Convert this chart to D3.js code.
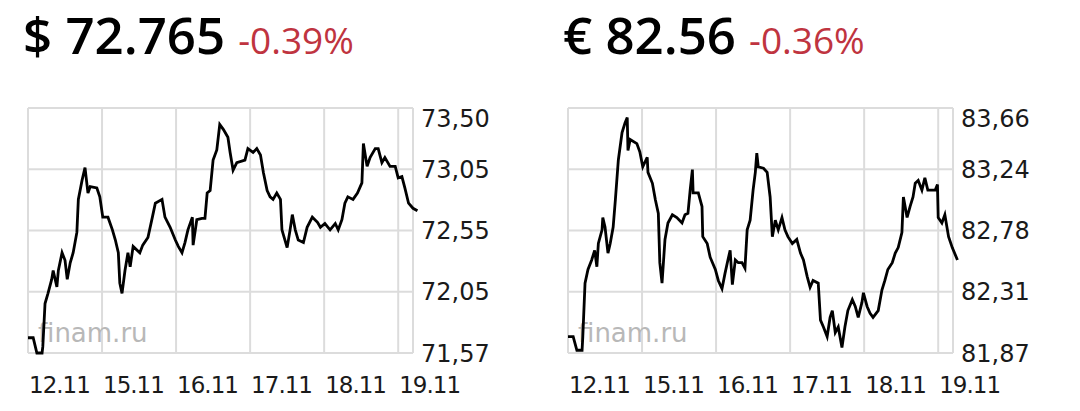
<!DOCTYPE html>
<html>
<head>
<meta charset="utf-8">
<script src="https://cdn.jsdelivr.net/npm/d3@7"></script>
<style>
  body { margin: 0; background: #fff; }
  svg { display: block; }
</style>
</head>
<body>
<script>
var width = 1080;
var height = 411;

// shared x axis: trading days, position in "day units"
var dayLabels = ["12.11", "15.11", "16.11", "17.11", "18.11", "19.11"];

// USD/RUB
var usdTicks = ["71,57", "72,05", "72,55", "73,05", "73,50"];
var usdDomain = [71.57, 73.50];
var usdT = [0.00, 0.07, 0.12, 0.19, 0.20, 0.23, 0.27, 0.32, 0.34, 0.39, 0.41, 0.46, 0.50, 0.53, 0.57, 0.61,
    0.66, 0.68, 0.73, 0.77, 0.81, 0.84, 0.93, 0.97, 1.01, 1.08, 1.14, 1.18, 1.22, 1.24, 1.27, 1.31,
    1.35, 1.38, 1.42, 1.51, 1.55, 1.62, 1.68, 1.72, 1.81, 1.85, 1.92, 1.99, 2.03, 2.08, 2.12, 2.16,
    2.22, 2.23, 2.28, 2.35, 2.39, 2.42, 2.46, 2.50, 2.55, 2.59, 2.64, 2.70, 2.73, 2.77, 2.82, 2.93,
    2.97, 3.04, 3.09, 3.14, 3.18, 3.23, 3.27, 3.31, 3.36, 3.41, 3.43, 3.50, 3.54, 3.57, 3.61, 3.65,
    3.72, 3.77, 3.84, 3.91, 3.95, 4.01, 4.08, 4.15, 4.19, 4.24, 4.28, 4.32, 4.39, 4.45, 4.51, 4.53,
    4.58, 4.62, 4.69, 4.73, 4.78, 4.82, 4.89, 4.96, 5.00, 5.05, 5.09, 5.14, 5.20, 5.26];
var usdV = [71.69, 71.69, 71.57, 71.57, 71.62, 71.96, 72.04, 72.15, 72.22, 72.09, 72.22, 72.36, 72.30, 72.15, 72.28, 72.36,
    72.52, 72.78, 72.93, 73.03, 72.83, 72.88, 72.87, 72.80, 72.64, 72.64, 72.54, 72.46, 72.36, 72.12, 72.04, 72.22,
    72.36, 72.25, 72.41, 72.36, 72.42, 72.48, 72.64, 72.75, 72.78, 72.64, 72.56, 72.46, 72.41, 72.36, 72.44, 72.54,
    72.64, 72.42, 72.62, 72.63, 72.63, 72.83, 72.85, 73.09, 73.17, 73.37, 73.33, 73.27, 73.15, 73.01, 73.07, 73.09,
    73.18, 73.15, 73.18, 73.13, 72.99, 72.85, 72.80, 72.78, 72.83, 72.78, 72.54, 72.40, 72.54, 72.66, 72.54, 72.46,
    72.44, 72.56, 72.64, 72.60, 72.56, 72.59, 72.54, 72.59, 72.54, 72.62, 72.75, 72.80, 72.78, 72.83, 72.91, 73.22,
    73.04, 73.11, 73.18, 73.18, 73.07, 73.11, 73.04, 73.04, 72.95, 72.96, 72.87, 72.75, 72.71, 72.69];

// EUR/RUB
var eurTicks = ["81,87", "82,31", "82,78", "83,24", "83,66"];
var eurDomain = [81.87, 83.66];
var eurT = [0.00, 0.07, 0.12, 0.19, 0.20, 0.23, 0.27, 0.32, 0.36, 0.39, 0.41, 0.46, 0.47, 0.50, 0.54, 0.57,
    0.61, 0.64, 0.68, 0.73, 0.77, 0.80, 0.81, 0.84, 0.93, 0.97, 1.01, 1.07, 1.08, 1.14, 1.18, 1.22,
    1.24, 1.27, 1.31, 1.35, 1.41, 1.47, 1.54, 1.58, 1.62, 1.65, 1.68, 1.69, 1.76, 1.81, 1.82, 1.88,
    1.92, 1.99, 2.03, 2.08, 2.12, 2.16, 2.19, 2.22, 2.26, 2.30, 2.35, 2.39, 2.42, 2.46, 2.50, 2.53,
    2.55, 2.57, 2.64, 2.69, 2.73, 2.76, 2.80, 2.84, 2.89, 2.93, 2.97, 3.03, 3.09, 3.14, 3.18, 3.23,
    3.27, 3.31, 3.38, 3.41, 3.45, 3.50, 3.54, 3.57, 3.61, 3.65, 3.70, 3.74, 3.78, 3.84, 3.88, 3.92,
    3.97, 3.99, 4.04, 4.08, 4.12, 4.19, 4.24, 4.28, 4.32, 4.38, 4.42, 4.46, 4.51, 4.53, 4.58, 4.62,
    4.66, 4.69, 4.73, 4.78, 4.82, 4.86, 4.92, 4.96, 4.99, 5.00, 5.05, 5.09, 5.14, 5.19, 5.26];
var eurV = [81.99, 81.99, 81.89, 81.89, 81.99, 82.38, 82.48, 82.55, 82.62, 82.50, 82.67, 82.77, 82.86, 82.79, 82.60, 82.67,
    82.79, 82.99, 83.28, 83.48, 83.55, 83.59, 83.35, 83.43, 83.40, 83.34, 83.23, 83.30, 83.19, 83.11, 82.99, 82.89,
    82.53, 82.38, 82.70, 82.82, 82.88, 82.86, 82.82, 82.88, 82.89, 83.06, 83.21, 83.04, 83.04, 82.94, 82.72, 82.67,
    82.57, 82.48, 82.40, 82.34, 82.45, 82.55, 82.62, 82.37, 82.55, 82.53, 82.53, 82.49, 82.77, 82.84, 83.06, 83.19,
    83.33, 83.23, 83.22, 83.19, 83.01, 82.72, 82.84, 82.77, 82.86, 82.77, 82.72, 82.67, 82.70, 82.60, 82.55, 82.43,
    82.35, 82.40, 82.38, 82.11, 82.06, 81.99, 82.13, 82.18, 82.02, 82.06, 81.91, 82.06, 82.18, 82.26, 82.21, 82.13,
    82.24, 82.31, 82.21, 82.16, 82.13, 82.18, 82.33, 82.40, 82.48, 82.53, 82.60, 82.64, 82.75, 83.01, 82.86, 82.94,
    83.01, 83.11, 83.13, 83.06, 83.15, 83.06, 83.06, 83.06, 83.10, 82.86, 82.82, 82.88, 82.72, 82.64, 82.55];

var svg = d3.select("body")
    .append("svg")
    .attr("width", width)
    .attr("height", height);

function drawHeader(x, symbol, price, change) {
    var big = svg.append("text")
        .attr("x", x)
        .attr("y", 54)
        .attr("font-family", "Open Sans")
        .attr("font-size", 51)
        .attr("font-weight", 600)
        .attr("fill", "#000")
        .text(symbol + " " + price);

    // change sits just after the price
    var w = big.node().getComputedTextLength();
    svg.append("text")
        .attr("x", x + w + 13)
        .attr("y", 54)
        .attr("font-family", "Open Sans")
        .attr("font-size", 37)
        .attr("fill", "#bf3440")
        .text(change);
}

function drawChart(left, tickLabels, domain, tVals, vVals) {
    var top = 108, bottom = 353, right = left + 385;

    var x = d3.scaleLinear()
        .domain([0, 5.2])
        .range([left, right]);

    var y = d3.scaleLinear()
        .domain(domain)
        .range([bottom, top]);

    // gridline rows are evenly spaced, labels sit on them
    var yRow = d3.scalePoint()
        .domain(tickLabels)
        .range([bottom, top]);

    var g = svg.append("g");

    g.selectAll(".hgrid")
        .data(tickLabels)
        .enter()
        .append("line")
        .attr("x1", left)
        .attr("x2", right)
        .attr("y1", function(d) { return yRow(d); })
        .attr("y2", function(d) { return yRow(d); })
        .attr("stroke", "#dcdcdc")
        .attr("stroke-width", 2);

    g.selectAll(".vgrid")
        .data(d3.range(dayLabels.length).concat([5.2]))
        .enter()
        .append("line")
        .attr("x1", function(d) { return x(d); })
        .attr("x2", function(d) { return x(d); })
        .attr("y1", top)
        .attr("y2", bottom)
        .attr("stroke", "#dcdcdc")
        .attr("stroke-width", 2);

    // watermark
    g.append("text")
        .attr("x", left + 10)
        .attr("y", 342)
        .attr("font-family", "DejaVu Sans")
        .attr("font-size", 26)
        .attr("fill", "#b8b8b8")
        .text("finam.ru");

    var pts = tVals.map(function(t, i) { return [t, vVals[i]]; });

    var line = d3.line()
        .x(function(d) { return x(d[0]); })
        .y(function(d) { return y(d[1]); });

    g.append("path")
        .datum(pts)
        .attr("d", line)
        .attr("fill", "none")
        .attr("stroke", "#000")
        .attr("stroke-width", 2.8);

    g.selectAll(".ylab")
        .data(tickLabels)
        .enter()
        .append("text")
        .attr("x", right + 8)
        .attr("y", function(d) { return Math.max(yRow(d), 118); })
        .attr("dy", "0.36em")
        .attr("font-family", "DejaVu Sans")
        .attr("font-size", 24)
        .attr("fill", "#1a1a1a")
        .text(function(d) { return d; });

    g.selectAll(".xlab")
        .data(dayLabels)
        .enter()
        .append("text")
        .attr("x", function(d, i) { return x(i) + 1; })
        .attr("y", 393)
        .attr("font-family", "DejaVu Sans")
        .attr("font-size", 23)
        .attr("letter-spacing", "-1px")
        .attr("fill", "#1a1a1a")
        .text(function(d) { return d; });
}

drawHeader(23, "$", "72.765", "-0.39%");
drawHeader(563, "€", "82.56", "-0.36%");

drawChart(28, usdTicks, usdDomain, usdT, usdV);
drawChart(568, eurTicks, eurDomain, eurT, eurV);
</script>
</body>
</html>
